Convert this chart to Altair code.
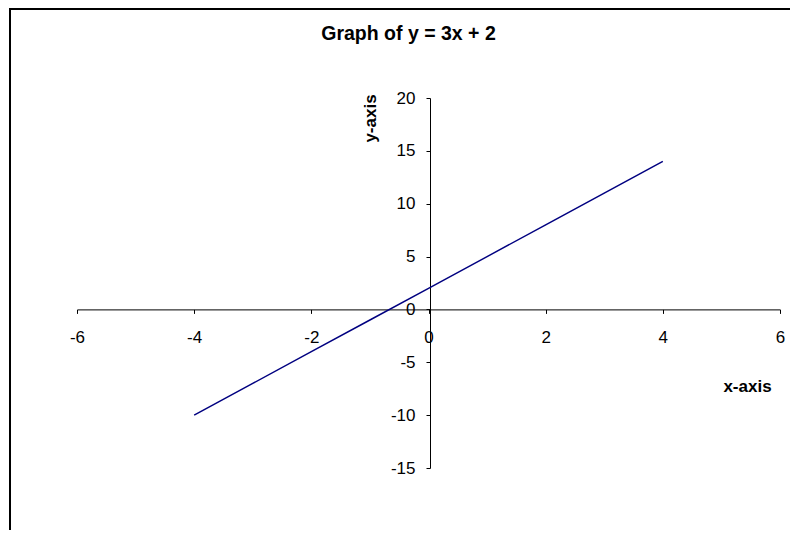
import altair as alt
import pandas as pd

# data
x_vals = [-4, -3, -2, -1, 0, 1, 2, 3, 4]
y_vals = [-10, -7, -4, -1, 2, 5, 8, 11, 14]
x_ticks = [-6, -4, -2, 0, 2, 4, 6]
y_ticks = [-15, -10, -5, 0, 5, 10, 15, 20]

df = pd.DataFrame({"x": x_vals, "y": y_vals})

FONT = "Liberation Sans, Arial, sans-serif"
W, H = 703, 370

line = alt.Chart(df).mark_line(color="#000080", strokeWidth=1.5).encode(
    x=alt.X("x:Q",
            scale=alt.Scale(domain=[-6, 6], nice=False, zero=False),
            axis=alt.Axis(values=x_ticks, orient="bottom", offset=-158.6,
                          grid=False, domainColor="black", tickColor="black",
                          tickSize=4, labelPadding=16, labelFlush=False,
                          labelOverlap=False, labelFont=FONT, labelFontSize=17,
                          labelExpr="'' + datum.value",
                          labelColor="black", title="x-axis", titleFont=FONT,
                          titleFontSize=17, titleFontWeight="bold", titleColor="black",
                          titleX=670, titleY=77, titleAlign="center",
                          titleBaseline="middle", titleAngle=0)),
    y=alt.Y("y:Q",
            scale=alt.Scale(domain=[-15, 20], nice=False, zero=False),
            axis=alt.Axis(values=y_ticks, orient="left", offset=-353,
                          grid=False, domainColor="black", tickColor="black",
                          tickSize=4, labelPadding=11, labelFlush=False,
                          labelOverlap=False, labelFont=FONT, labelFontSize=17,
                          labelExpr="'' + datum.value",
                          labelColor="black", title="y-axis", titleFont=FONT,
                          titleFontSize=17, titleFontWeight="bold", titleColor="black",
                          titleX=-60, titleY=20, titleAlign="center",
                          titleBaseline="middle", titleAngle=270)),
)

border = alt.Chart(alt.Data(values=[{"k": 1}])).mark_rect(
    fill="transparent", stroke="black", strokeWidth=2
).encode(
    x=alt.value(-67), x2=alt.value(W + 200),
    y=alt.value(-89), y2=alt.value(H + 200),
)

chart = alt.layer(border, line).properties(
    width=W, height=H,
    background="white",
    title=alt.TitleParams("Graph of y = 3x + 2", font=FONT, fontSize=19.5,
                          fontWeight="bold", color="black", anchor="middle",
                          frame="group", baseline="bottom", offset=0, dy=55, dx=-20),
    autosize=alt.AutoSizeParams(type="none"),
    padding={"left": 69, "top": 90, "right": 10, "bottom": 62},
).configure_view(strokeWidth=0, stroke="transparent")

chart.save("out.html", embed_options={"renderer": "svg", "actions": False})
